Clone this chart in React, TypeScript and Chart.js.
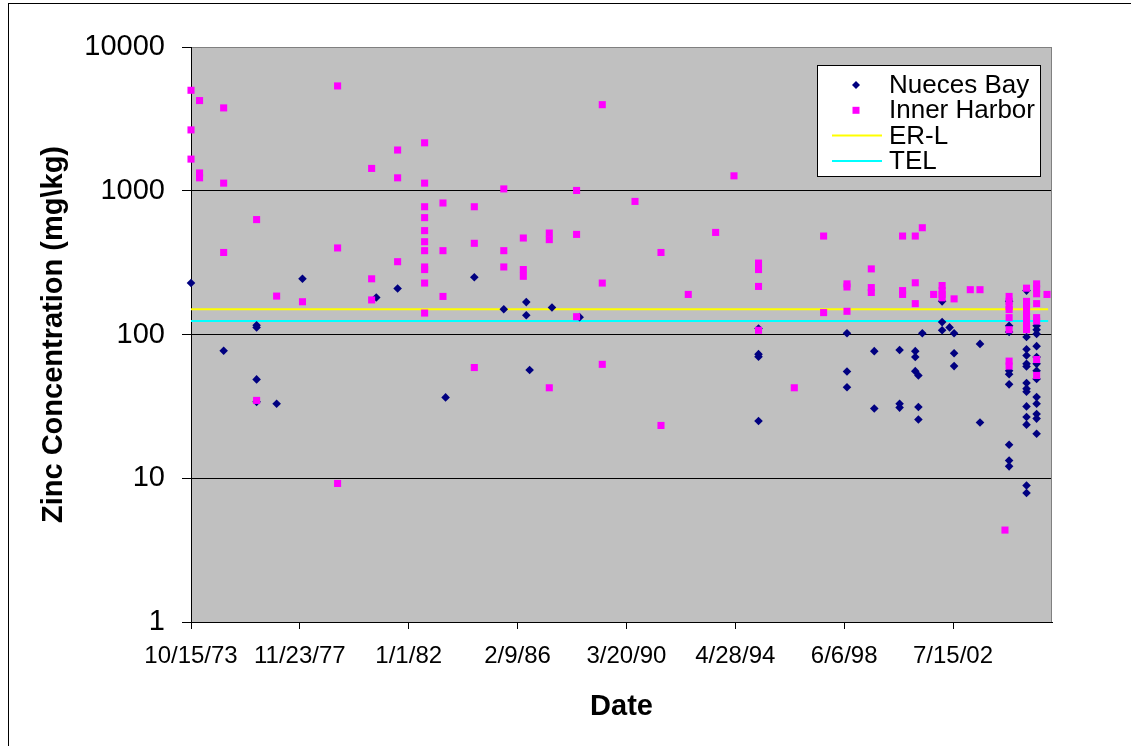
import React, { useEffect, useRef } from "react";
import { Chart, registerables } from "chart.js";

Chart.register(...registerables);

const FONT = '"Liberation Sans", Arial, Helvetica, sans-serif';

// ---- axis data ----
const baseDate = "1973-10-15";
const axisEndDate = "2006-04-09";
const xTickDates = ["1973-10-15", "1977-11-23", "1982-01-01", "1986-02-09", "1990-03-20", "1994-04-28", "1998-06-06", "2002-07-15"];
const xTickLabels = ["10/15/73", "11/23/77", "1/1/82", "2/9/86", "3/20/90", "4/28/94", "6/6/98", "7/15/02"];
const yTickValues = [1, 10, 100, 1000, 10000];
const yTickLabels = ["1", "10", "100", "1000", "10000"];

// ---- Nueces Bay samples (mg/kg) ----
const nuecesDates = [
  "1973-10-15", "1975-01-08", "1976-04-06", "1977-01-07", "1977-12-29", "1980-10-11", "1981-08-01",
  "1983-05-24", "1984-06-23", "1985-08-03", "1986-06-09", "1986-07-25", "1987-05-29", "1988-06-13",
  "1995-03-14", "1998-07-15", "1999-07-26", "2000-07-09", "2001-02-10", "2001-03-25", "2001-05-18",
  "2002-02-15", "2002-05-29", "2002-07-30", "2003-07-22", "2004-08-26", "2005-04-23", "2005-09-09",
];
const nuecesValues = [
  [228], [77], [116, 112, 48.7, 34], [33], [244], [181], [209],
  [36.5], [250], [150], [168, 136], [56.6], [154], [132],
  [110, 73, 70, 25], [102, 55.3, 43], [76.6, 30.6], [78, 33, 31], [76.6, 69.7, 55.6], [51.9, 31.3, 25.6], [102],
  [170, 122, 107], [112], [102, 74, 60.3], [86, 24.4],
  [170, 115, 104, 56, 53, 45, 17.1, 13.3, 12.1],
  [202, 96, 79, 71.4, 62.5, 60, 46, 42, 40, 31.6, 26.7, 23.6, 8.9, 7.9],
  [115, 108, 101, 83, 69.7, 62.5, 56, 49, 36.7, 33, 28, 26, 20.4],
];

// ---- Inner Harbor samples (mg/kg) ----
const harborDates = [
  "1973-10-15", "1974-02-10", "1975-01-08", "1976-04-06", "1977-01-07", "1977-12-29", "1979-04-27",
  "1980-08-08", "1981-08-01", "1982-08-08", "1983-04-18", "1984-06-23", "1985-08-03", "1986-04-29",
  "1987-04-22", "1988-05-02", "1989-04-21", "1990-07-16", "1991-07-09", "1992-07-19", "1993-07-31",
  "1994-04-10", "1995-03-14", "1996-07-19", "1997-08-27", "1998-07-15", "1999-06-15", "2000-08-19",
  "2001-02-10", "2001-05-18", "2001-10-21", "2002-02-15", "2002-07-30", "2003-03-10", "2003-07-22",
  "2004-06-30", "2004-08-26", "2005-04-23", "2005-09-09", "2006-01-30",
];
const harborValues = [
  [5000, 2650, 1660], [4240, 1330, 1230], [3770, 1130, 372], [630, 34.8], [185], [169], [5360, 400, 9.2],
  [1430, 244, 174], [1920, 1230, 321], [2155, 1130, 774, 650, 528, 442, 383, 295, 283, 228, 141], [822, 383, 184], [774, 431, 58.9], [1030, 383, 295], [469, 283, 254],
  [508, 457, 42.6], [1005, 497, 133], [3970, 228, 62], [843], [372, 23.3], [190], [513],
  [1270], [314, 283, 216, 107], [42.6], [484, 142], [225, 214, 145], [286, 212, 196], [484, 202, 190],
  [484, 229, 164], [553], [190], [219, 202, 190, 180], [177], [205], [205],
  [4.36], [184, 170, 157, 149, 131, 108, 65.3, 60.3], [210, 170, 157, 144, 133, 122, 112, 108],
  [225, 208, 192, 164, 131, 124, 67, 51.9], [190],
];

// ---- guideline values ----
const guideDates = ["1973-10-15", "2006-02-15"];
const erlValue = 150;
const telValue = 124;

const toDay = (iso: string) => {
  const [y, m, d] = iso.split("-").map(Number);
  const [by, bm, bd] = baseDate.split("-").map(Number);
  return (Date.UTC(y, m - 1, d) - Date.UTC(by, bm - 1, bd)) / 86400000;
};

const toPoints = (dates: string[], values: number[][]) =>
  dates.flatMap((d, i) => values[i].map((v) => ({ x: toDay(d), y: v })));

const plotBackground = {
  id: "plotBackground",
  beforeDraw(chart: any) {
    const { ctx, chartArea: a } = chart;
    ctx.save();
    ctx.fillStyle = "#C0C0C0";
    ctx.fillRect(a.left, a.top, a.right - a.left, a.bottom - a.top);
    ctx.restore();
  },
  beforeDatasetsDraw(chart: any) {
    const { ctx, chartArea: a } = chart;
    ctx.save();
    ctx.strokeStyle = "#808080";
    ctx.lineWidth = 1;
    ctx.beginPath();
    ctx.moveTo(Math.round(a.right) - 0.5, a.top);
    ctx.lineTo(Math.round(a.right) - 0.5, a.bottom);
    ctx.stroke();
    ctx.restore();
  },
};

const boxLegend = {
  id: "boxLegend",
  afterDraw(chart: any) {
    const { ctx } = chart;
    const x0 = 817.5, y0 = 65.5, w = 223, h = 111;
    ctx.save();
    ctx.fillStyle = "#FFFFFF";
    ctx.fillRect(x0, y0, w, h);
    ctx.strokeStyle = "#000000";
    ctx.lineWidth = 1;
    ctx.strokeRect(x0, y0, w, h);
    const rowY0 = 85;
    const rowGap = 25.3;
    const symX = 856;
    chart.data.datasets.forEach((ds: any, i: number) => {
      const y = rowY0 + i * rowGap;
      if (ds.type === "line") {
        ctx.strokeStyle = ds.borderColor;
        ctx.lineWidth = 2;
        ctx.beginPath();
        ctx.moveTo(832, y);
        ctx.lineTo(882, y);
        ctx.stroke();
      } else {
        ctx.fillStyle = ds.backgroundColor;
        ctx.beginPath();
        if (ds.pointStyle === "rectRot") {
          const r = 4;
          ctx.moveTo(symX - r, y);
          ctx.lineTo(symX, y - r);
          ctx.lineTo(symX + r, y);
          ctx.lineTo(symX, y + r);
          ctx.closePath();
        } else {
          ctx.rect(symX - 3.5, y - 3.5, 7, 7);
        }
        ctx.fill();
      }
      ctx.fillStyle = "#000000";
      ctx.font = `26px ${FONT}`;
      ctx.textBaseline = "middle";
      ctx.textAlign = "left";
      ctx.fillText(ds.label, 889, y + 1);
    });
    ctx.restore();
  },
};

export default function App() {
  const ref = useRef<HTMLCanvasElement | null>(null);

  useEffect(() => {
    if (!ref.current) return;
    const xTicks = xTickDates.map(toDay);
    const chart = new Chart(ref.current, {
      type: "scatter",
      data: {
        datasets: [
          {
            type: "scatter",
            label: "Nueces Bay",
            data: toPoints(nuecesDates, nuecesValues),
            pointStyle: "rectRot",
            backgroundColor: "#000080",
            borderColor: "#000080",
            borderWidth: 0,
            pointRadius: 4.3,
            clip: false,
            order: 2,
          },
          {
            type: "scatter",
            label: "Inner Harbor",
            data: toPoints(harborDates, harborValues),
            pointStyle: "rect",
            backgroundColor: "#FF00FF",
            borderColor: "#FF00FF",
            borderWidth: 0,
            pointRadius: 5,
            clip: false,
            order: 1,
          },
          {
            type: "line",
            label: "ER-L",
            data: guideDates.map((d) => ({ x: toDay(d), y: erlValue })),
            borderColor: "#FFFF00",
            backgroundColor: "#FFFF00",
            borderWidth: 2,
            pointRadius: 0,
            order: 3,
          },
          {
            type: "line",
            label: "TEL",
            data: guideDates.map((d) => ({ x: toDay(d), y: telValue })),
            borderColor: "#00FFFF",
            backgroundColor: "#00FFFF",
            borderWidth: 2,
            pointRadius: 0,
            order: 3,
          },
        ],
      } as any,
      options: {
        responsive: false,
        animation: false,
        devicePixelRatio: 1,
        events: [],
        layout: { padding: { top: 47, right: 79, left: 0, bottom: 0 } },
        plugins: { legend: { display: false }, tooltip: { enabled: false } },
        scales: {
          x: {
            type: "linear",
            min: 0,
            max: toDay(axisEndDate),
            afterBuildTicks: (s: any) => {
              s.ticks = xTicks.map((v) => ({ value: v }));
            },
            afterFit: (s: any) => {
              s.height = 124;
            },
            grid: { drawOnChartArea: false, drawTicks: true, tickLength: 7, color: "#000000", tickColor: "#000000" },
            border: { display: true, color: "#000000", width: 1 },
            ticks: {
              autoSkip: false,
              maxRotation: 0,
              minRotation: 0,
              padding: 13,
              color: "#000000",
              font: { family: FONT, size: 24 },
              callback: (_v: any, i: number) => xTickLabels[i],
            },
            title: {
              display: true,
              text: "Date",
              color: "#000000",
              font: { family: FONT, size: 29, weight: "bold" },
              padding: { top: 0, bottom: 22 },
            },
          },
          y: {
            type: "logarithmic",
            min: 1,
            max: 10000,
            afterBuildTicks: (s: any) => {
              s.ticks = yTickValues.map((v) => ({ value: v }));
            },
            afterFit: (s: any) => {
              s.width = 191;
            },
            grid: {
              drawTicks: true,
              tickLength: 9,
              color: (c: any) => (c.tick && c.tick.value === 10000 ? "#808080" : "#000000"),
              tickColor: "#000000",
            },
            border: { display: true, color: "#000000", width: 1 },
            ticks: {
              padding: 17,
              color: "#000000",
              font: { family: FONT, size: 29 },
              callback: (_v: any, i: number) => yTickLabels[i],
            },
            title: {
              display: true,
              text: "Zinc Concentration (mg\\kg)",
              color: "#000000",
              font: { family: FONT, size: 29, weight: "bold" },
              padding: { top: 37, bottom: 0 },
            },
          },
        },
      } as any,
      plugins: [plotBackground, boxLegend],
    });
    return () => chart.destroy();
  }, []);

  return (
    <div style={{ position: "fixed", left: 0, top: 0, width: 1131, height: 746, background: "#FFFFFF", overflow: "hidden" }}>
      <div style={{ position: "absolute", left: 8, top: 3, width: 1300, height: 900, border: "1px solid #000000", boxSizing: "border-box" }} />
      <canvas ref={ref} width={1131} height={746} style={{ position: "absolute", left: 0, top: 0 }} />
    </div>
  );
}
